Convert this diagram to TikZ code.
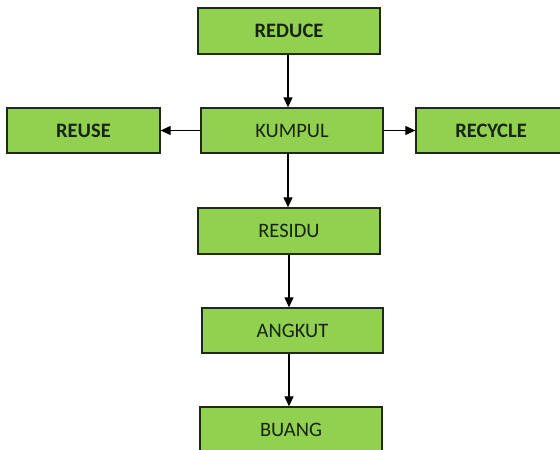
\documentclass[tikz,border=0pt]{standalone}
\usepackage{fontspec}
\setmainfont{Carlito}
\usetikzlibrary{arrows.meta}
\definecolor{boxgreen}{HTML}{92D050}
\definecolor{boxline}{HTML}{1E2A14}
\definecolor{txt}{HTML}{17240F}
\tikzset{
  stepbox/.style={draw=boxline, line width=1.3pt, fill=boxgreen, text=txt,
    inner sep=0pt, font=\fontsize{20.5}{24}\selectfont},
  keybox/.style={stepbox, font=\fontsize{20.5}{24}\selectfont\bfseries},
  flow/.style={line width=1.2pt, -{Triangle[length=10pt,width=9pt]}}
}
\begin{document}
\begin{tikzpicture}[x=1pt,y=-1pt]
\useasboundingbox (0,0) rectangle (560,450);
\clip (0,0) rectangle (560,450);
\node[keybox, minimum width=182pt, minimum height=46pt] (reduce) at (289,31) {REDUCE};
\node[stepbox, minimum width=182pt, minimum height=45pt] (kumpul) at (292,130.5) {KUMPUL};
\node[keybox, minimum width=153pt, minimum height=45pt] (reuse) at (83.5,130.5) {REUSE};
\node[keybox, minimum width=150pt, minimum height=45pt] (recycle) at (491,130.5) {RECYCLE};
\node[stepbox, minimum width=182pt, minimum height=46pt] (residu) at (289,231) {RESIDU};
\node[stepbox, minimum width=181pt, minimum height=45pt] (angkut) at (292.5,330.5) {ANGKUT};
\node[stepbox, minimum width=182pt, minimum height=46pt] (buang) at (291,430) {BUANG};
\draw[flow] (reduce.south -| 288,0) -- (kumpul.north -| 288,0);
\draw[flow] (kumpul.west) -- (reuse.east);
\draw[flow] (kumpul.east) -- (recycle.west);
\draw[flow] (kumpul.south -| 288,0) -- (residu.north -| 288,0);
\draw[flow] (residu.south -| 289,0) -- (angkut.north -| 289,0);
\draw[flow] (angkut.south -| 289,0) -- (buang.north -| 289,0);
\end{tikzpicture}
\end{document}
